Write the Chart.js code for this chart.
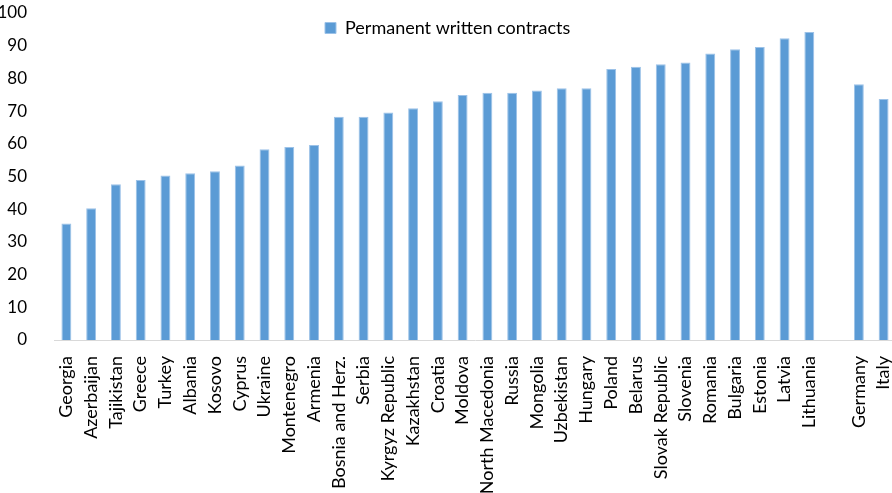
<!DOCTYPE html>
<html>
<head>
<meta charset="utf-8">
<script src="https://cdn.jsdelivr.net/npm/chart.js@4/dist/chart.umd.min.js"></script>
<style>
html,body{margin:0;padding:0;background:#fff;overflow:hidden;}
#wrap{width:896px;height:493px;}
</style>
</head>
<body>
<div id="wrap"><canvas id="c" width="896" height="493"></canvas></div>
<script>
const categories = ["Georgia","Azerbaijan","Tajikistan","Greece","Turkey","Albania","Kosovo","Cyprus","Ukraine","Montenegro","Armenia","Bosnia and Herz.","Serbia","Kyrgyz Republic","Kazakhstan","Croatia","Moldova","North Macedonia","Russia","Mongolia","Uzbekistan","Hungary","Poland","Belarus","Slovak Republic","Slovenia","Romania","Bulgaria","Estonia","Latvia","Lithuania","","Germany","Italy"];
const permanentWritten = [35.6,40.3,47.6,48.9,50.3,51.0,51.6,53.4,58.3,59.0,59.6,68.3,68.3,69.6,70.9,73.0,74.9,75.6,75.6,76.3,77.0,77.0,82.9,83.6,84.3,84.9,87.6,88.9,89.6,92.3,94.2,null,78.2,73.7];
const seriesName = "Permanent written contracts";
const yTicks = [0,10,20,30,40,50,60,70,80,90,100];

const FONT = "Lato, 'Open Sans', sans-serif";

const legendPlace = {
  id: 'legendPlace',
  afterLayout(chart){
    const lg = chart.legend;
    if (!lg) return;
    const w = lg.right - lg.left, h = lg.bottom - lg.top;
    lg.left = 319; lg.top = 13;
    lg.right = lg.left + w; lg.bottom = lg.top + h;
  }
};

new Chart(document.getElementById('c'), {
  type: 'bar',
  data: {
    labels: categories,
    datasets: [{
      label: seriesName,
      data: permanentWritten,
      backgroundColor: '#5B9BD5',
      borderColor: '#9cc2e8',
      borderWidth: 1,
      categoryPercentage: 1.0,
      barPercentage: 0.4
    }]
  },
  options: {
    responsive: false,
    animation: false,
    layout: { padding: 0 },
    plugins: {
      legend: {
        position: 'chartArea',
        align: 'start',
        labels: {
          boxWidth: 11, boxHeight: 11,
          color: '#000',
          font: { family: FONT, size: 18 },
          padding: 6
        }
      },
      tooltip: { enabled: false }
    },
    scales: {
      x: {
        grid: { display: false },
        border: { display: true, color: '#d9d9d9', width: 1 },
        ticks: {
          autoSkip: false,
          maxRotation: 90, minRotation: 90,
          color: '#000',
          font: { family: FONT, size: 18 },
          padding: 8
        },
        afterFit(s){ s.height = 153; s.paddingLeft = 0; s.paddingRight = 0; }
      },
      y: {
        min: 0, max: 100,
        afterBuildTicks(s){ s.ticks = yTicks.map(v => ({value: v})); },
        grid: { display: false },
        border: { display: false },
        ticks: {
          color: '#000',
          font: { family: FONT, size: 17 },
          padding: 19
        },
        afterFit(s){ s.width = 54; s.paddingTop = 13; s.paddingBottom = 0; }
      }
    }
  },
  plugins: [legendPlace]
});
</script>
</body>
</html>
